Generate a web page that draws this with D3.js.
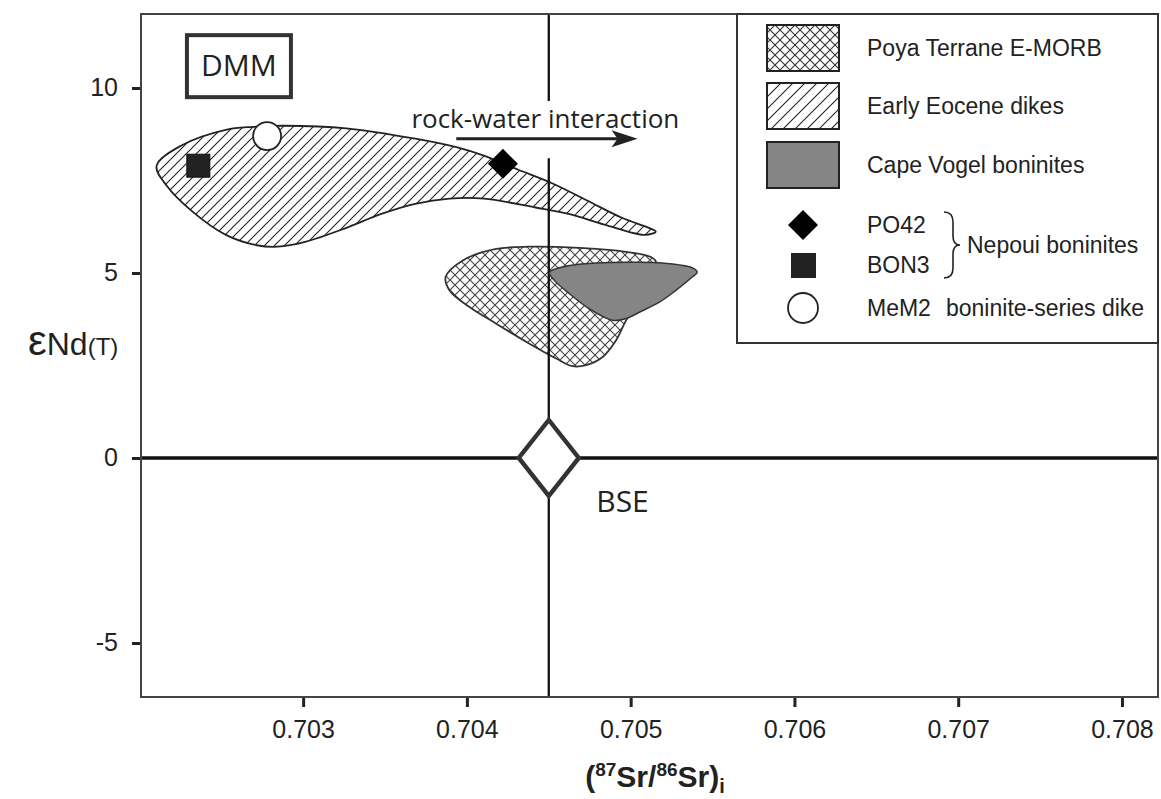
<!DOCTYPE html>
<html>
<head>
<meta charset="utf-8">
<script src="https://cdn.jsdelivr.net/npm/d3@7"></script>
<style>
  body { margin: 0; background: #fff; }
  svg { display: block; }
  text { fill: #222; }
</style>
</head>
<body>
<svg id="chart" width="1161" height="799"></svg>
<script>
// ---- data ----------------------------------------------------------------
const xDomain = [0.70201, 0.70822];
const yDomain = [-6.46, 12];
const xTicks = [0.703, 0.704, 0.705, 0.706, 0.707, 0.708];
const yTicks = [-5, 0, 5, 10];

// field outlines: [87Sr/86Sr(i), eNd(T)]
const eoceneDikes = [
  [0.702105, 7.89], [0.702254, 8.44], [0.702528, 8.87], [0.702697, 8.95],
  [0.702886, 8.98], [0.703264, 8.91], [0.703684, 8.63], [0.703936, 8.40],
  [0.704104, 8.17], [0.704314, 7.79], [0.704523, 7.42], [0.704734, 6.96],
  [0.704943, 6.50], [0.705111, 6.22], [0.705153, 6.12], [0.705089, 6.03],
  [0.704839, 6.31], [0.704628, 6.59], [0.704419, 6.77], [0.704104, 7.01],
  [0.703894, 7.01], [0.703684, 6.87], [0.703473, 6.59], [0.703264, 6.22],
  [0.703012, 5.84], [0.702844, 5.71], [0.702717, 5.75], [0.702528, 6.03],
  [0.702319, 6.68], [0.702172, 7.33]
];
const poyaEmorb = [
  [0.703870, 4.89], [0.703975, 5.34], [0.704179, 5.65], [0.704382, 5.71],
  [0.704585, 5.70], [0.704789, 5.65], [0.704992, 5.56], [0.705124, 5.43],
  [0.705155, 5.29], [0.705114, 4.93], [0.705053, 4.26], [0.704972, 3.72],
  [0.704911, 3.18], [0.704829, 2.73], [0.704728, 2.51], [0.704646, 2.48],
  [0.704545, 2.69], [0.704382, 3.09], [0.704179, 3.63], [0.704016, 4.08],
  [0.703894, 4.53]
];
const capeVogel = [
  [0.704504, 5.02], [0.704626, 5.20], [0.704789, 5.27], [0.704992, 5.29],
  [0.705195, 5.27], [0.705378, 5.14], [0.705406, 5.02], [0.705376, 4.89],
  [0.705276, 4.53], [0.705175, 4.21], [0.705053, 3.94], [0.704972, 3.77],
  [0.704890, 3.72], [0.704748, 4.03], [0.704626, 4.44], [0.704534, 4.80]
];

// samples
const po42 = { name: "PO42", x: 0.70422, y: 7.95 };
const bon3 = { name: "BON3", x: 0.70236, y: 7.90 };
const mem2 = { name: "MeM2", x: 0.70278, y: 8.70 };

// bulk silicate earth reference
const bse = { name: "BSE", x: 0.7045, y: 0 };
// BSE Sr line, broken where the annotation sits
const bseSrSegments = [[12, 9.65], [8.10, -6.46]];

// annotations (data coordinates)
const dmmLabel = { text: "DMM", x: 0.702608, y: 10.32 };
const rwiLabel = { text: "rock-water interaction", x: 0.703661, y: 8.93 };
const rwiArrow = { x0: 0.703935, x1: 0.705042, y: 8.63 };

const legendFields = ["Poya Terrane E-MORB", "Early Eocene dikes", "Cape Vogel boninites"];
const legendSamples = ["PO42", "BON3", "MeM2"];
const legendGroupLabel = "Nepoui boninites";
const legendMeM2Note = "boninite-series dike";

// ---- layout ----------------------------------------------------------------
const W = 1161, H = 799;
const margin = { top: 14, right: 3, bottom: 102, left: 141 };
const svg = d3.select("#chart");

const x = d3.scaleLinear().domain(xDomain).range([margin.left, W - margin.right]);
const y = d3.scaleLinear().domain(yDomain).range([H - margin.bottom, margin.top]);

const ARIAL = "'Liberation Sans', Arial, sans-serif";
const OPEN = "'Open Sans', sans-serif";

// ---- patterns ----------------------------------------------------------------
const defs = svg.append("defs");
function hatch(id, size, stroke, sw) {
  const p = defs.append("pattern").attr("id", id)
    .attr("patternUnits", "userSpaceOnUse").attr("width", size).attr("height", size);
  p.append("rect").attr("width", size).attr("height", size).attr("fill", "#fff");
  p.append("path")
    .attr("d", `M${-size/4},${size/4} L${size/4},${-size/4} M0,${size} L${size},0 M${size*3/4},${size*5/4} L${size*5/4},${size*3/4}`)
    .attr("stroke", stroke).attr("stroke-width", sw);
}
function cross(id, size, stroke, sw) {
  const p = defs.append("pattern").attr("id", id)
    .attr("patternUnits", "userSpaceOnUse").attr("width", size).attr("height", size);
  p.append("rect").attr("width", size).attr("height", size).attr("fill", "#fff");
  p.append("path")
    .attr("d", `M0,0 L${size},${size} M${size},0 L0,${size}`)
    .attr("stroke", stroke).attr("stroke-width", sw);
}
hatch("hatchPlot", 10, "#222", 1.1);
cross("crossPlot", 10, "#444", 1.1);
hatch("hatchLegend", 12, "#222", 1.1);
cross("crossLegend", 10, "#333", 1.1);

// ---- axes ----------------------------------------------------------------
const hyphenInt = d => String(d);   // plain ASCII hyphen for negatives
const xAxis = svg.append("g")
  .attr("transform", `translate(0,${H - margin.bottom})`)
  .call(d3.axisBottom(x).tickValues(xTicks).tickFormat(d => d.toFixed(3))
        .tickSize(10).tickPadding(13));
const yAxis = svg.append("g")
  .attr("transform", `translate(${margin.left},0)`)
  .call(d3.axisLeft(y).tickValues(yTicks).tickFormat(hyphenInt)
        .tickSize(9).tickPadding(14));
[xAxis, yAxis].forEach(g => {
  g.select(".domain").remove();
  g.selectAll(".tick line").attr("stroke", "#222").attr("stroke-width", 3);
  g.selectAll(".tick text").attr("font-family", ARIAL).attr("font-size", 25).attr("fill", "#222");
});

// ---- fields ----------------------------------------------------------------
const outline = d3.line()
  .x(d => x(d[0])).y(d => y(d[1]))
  .curve(d3.curveCatmullRomClosed.alpha(0.5));

const plot = svg.append("g");

plot.append("path").datum(eoceneDikes)
  .attr("d", outline).attr("fill", "url(#hatchPlot)")
  .attr("stroke", "#222").attr("stroke-width", 1.8);

plot.append("path").datum(poyaEmorb)
  .attr("d", outline).attr("fill", "url(#crossPlot)")
  .attr("stroke", "#333").attr("stroke-width", 1.8);

// reference lines through BSE
plot.selectAll("line.bseSr").data(bseSrSegments).join("line")
  .attr("class", "bseSr")
  .attr("x1", x(bse.x)).attr("x2", x(bse.x))
  .attr("y1", d => y(d[0])).attr("y2", d => y(d[1]))
  .attr("stroke", "#111").attr("stroke-width", 2.3);
plot.append("line")
  .attr("x1", x(xDomain[0])).attr("x2", x(xDomain[1]))
  .attr("y1", y(bse.y)).attr("y2", y(bse.y))
  .attr("stroke", "#111").attr("stroke-width", 3.4);

plot.append("path").datum(capeVogel)
  .attr("d", outline).attr("fill", "#858585")
  .attr("stroke", "#333").attr("stroke-width", 1.5);

// BSE diamond
plot.append("path")
  .attr("transform", `translate(${x(bse.x)},${y(bse.y)})`)
  .attr("d", "M-30,0 L0,-38 L30,0 L0,38 Z")
  .attr("fill", "#fff").attr("stroke", "#333").attr("stroke-width", 4.4)
  .attr("stroke-linejoin", "miter");
plot.append("text")
  .attr("x", x(0.70479)).attr("y", y(-1.46))
  .attr("font-family", OPEN).attr("font-size", 30).attr("fill", "#333")
  .text(bse.name);

// sample markers
const diamondPath = "M-15,0 L0,-15 L15,0 L0,15 Z";
plot.append("path")
  .attr("transform", `translate(${x(po42.x)},${y(po42.y)})`)
  .attr("d", diamondPath).attr("fill", "#000");
plot.append("rect")
  .attr("x", x(bon3.x) - 11.5).attr("y", y(bon3.y) - 11.5)
  .attr("width", 23).attr("height", 23)
  .attr("fill", "#222").attr("stroke", "#111").attr("stroke-width", 1);
plot.append("circle")
  .attr("cx", x(mem2.x)).attr("cy", y(mem2.y)).attr("r", 14)
  .attr("fill", "#fff").attr("stroke", "#222").attr("stroke-width", 1.8);

// DMM label box
plot.append("text")
  .attr("x", x(dmmLabel.x)).attr("y", y(dmmLabel.y))
  .attr("text-anchor", "middle")
  .attr("font-family", OPEN).attr("font-size", 30).attr("fill", "#333")
  .text(dmmLabel.text);
plot.append("rect")
  .attr("x", x(dmmLabel.x) - 52).attr("y", y(dmmLabel.y) - 41)
  .attr("width", 104).attr("height", 62)
  .attr("fill", "none").attr("stroke", "#333").attr("stroke-width", 4);

// rock-water interaction
plot.append("text")
  .attr("x", x(rwiLabel.x)).attr("y", y(rwiLabel.y))
  .attr("font-family", OPEN).attr("font-size", 26).attr("fill", "#222")
  .text(rwiLabel.text);
plot.append("line")
  .attr("x1", x(rwiArrow.x0)).attr("x2", x(rwiArrow.x1) - 20)
  .attr("y1", y(rwiArrow.y)).attr("y2", y(rwiArrow.y))
  .attr("stroke", "#222").attr("stroke-width", 3);
plot.append("path")
  .attr("transform", `translate(${x(rwiArrow.x1)},${y(rwiArrow.y)})`)
  .attr("d", "M0,0 L-26,-8.5 L-20,0 L-26,8.5 Z")
  .attr("fill", "#222");

// ---- frame ----------------------------------------------------------------
svg.append("rect")
  .attr("x", margin.left).attr("y", margin.top)
  .attr("width", W - margin.right - margin.left)
  .attr("height", H - margin.bottom - margin.top)
  .attr("fill", "none").attr("stroke", "#444").attr("stroke-width", 2);

// ---- axis titles ----------------------------------------------------------------
const xt = svg.append("text")
  .attr("x", 655).attr("y", 787)
  .attr("text-anchor", "middle")
  .attr("font-family", ARIAL).attr("font-weight", "bold").attr("font-size", 30);
xt.append("tspan").text("(");
xt.append("tspan").attr("font-size", 19).attr("dy", -11).text("87");
xt.append("tspan").attr("dy", 11).text("Sr/");
xt.append("tspan").attr("font-size", 19).attr("dy", -11).text("86");
xt.append("tspan").attr("dy", 11).text("Sr)");
xt.append("tspan").attr("font-size", 20).attr("dy", 6).text("i");

const yt = svg.append("text")
  .attr("x", 28).attr("y", 355)
  .attr("font-family", ARIAL).attr("font-size", 32);
yt.append("tspan").attr("font-size", 42).text("ε");
yt.append("tspan").text("Nd");
yt.append("tspan").attr("font-size", 24).text("(T)");

// ---- legend ----------------------------------------------------------------
const lg = svg.append("g");
lg.append("rect")
  .attr("x", 737).attr("y", 14).attr("width", 421).attr("height", 329)
  .attr("fill", "#fff").attr("stroke", "#333").attr("stroke-width", 2);

const LFS = 23;
const swatchFills = ["url(#crossLegend)", "url(#hatchLegend)", "#858585"];
const swatchY = [25, 83, 142];
legendFields.forEach((name, i) => {
  lg.append("rect")
    .attr("x", 767).attr("y", swatchY[i]).attr("width", 72).attr("height", 46)
    .attr("fill", swatchFills[i]).attr("stroke", "#222").attr("stroke-width", 2);
  lg.append("text")
    .attr("x", 867).attr("y", swatchY[i] + 23).attr("dy", "0.36em")
    .attr("font-family", ARIAL).attr("font-size", LFS)
    .text(name);
});

const sampleY = [225, 265, 308];
lg.append("path").attr("transform", `translate(803,${sampleY[0]})`)
  .attr("d", diamondPath).attr("fill", "#000");
lg.append("rect").attr("x", 791).attr("y", sampleY[1] - 12).attr("width", 25).attr("height", 25)
  .attr("fill", "#222");
lg.append("circle").attr("cx", 803).attr("cy", sampleY[2]).attr("r", 15)
  .attr("fill", "#fff").attr("stroke", "#222").attr("stroke-width", 1.8);
legendSamples.forEach((name, i) => {
  lg.append("text")
    .attr("x", 867).attr("y", sampleY[i]).attr("dy", "0.36em")
    .attr("font-family", ARIAL).attr("font-size", LFS)
    .text(name);
});
lg.append("text")
  .attr("x", 946).attr("y", sampleY[2]).attr("dy", "0.36em")
  .attr("font-family", ARIAL).attr("font-size", LFS)
  .text(legendMeM2Note);

// brace grouping PO42 and BON3
lg.append("path")
  .attr("d", "M944,212 Q953,212 953,222 L953,236 Q953,245 960,245 Q953,245 953,254 L953,268 Q953,278 944,278")
  .attr("fill", "none").attr("stroke", "#222").attr("stroke-width", 1.6);
lg.append("text")
  .attr("x", 967).attr("y", 245).attr("dy", "0.36em")
  .attr("font-family", ARIAL).attr("font-size", LFS)
  .text(legendGroupLabel);
</script>
</body>
</html>
